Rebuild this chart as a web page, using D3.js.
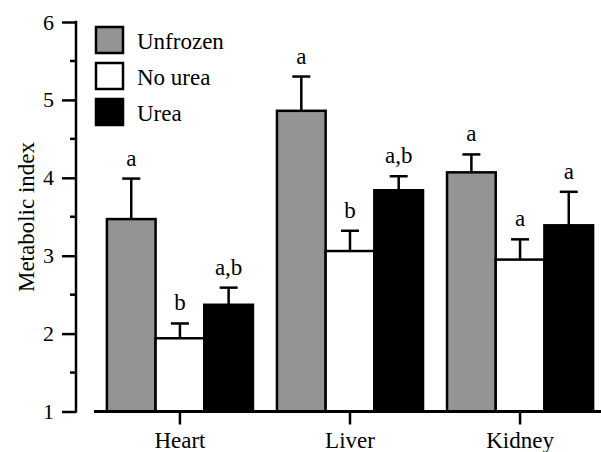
<!DOCTYPE html>
<html>
<head>
<meta charset="utf-8">
<script src="https://cdn.jsdelivr.net/npm/d3@7"></script>
<style>
  @font-face { font-family: "ChartSerif"; src: local("Liberation Serif"), local("LiberationSerif"), local("LiberationSerif-Regular"), local("Times New Roman"), local("Tinos"); }
  html, body { margin: 0; padding: 0; background: #fff; }
  #chart text { font-family: "ChartSerif", "Liberation Serif", "Times New Roman", Times, Tinos, "DejaVu Serif", serif; }
</style>
</head>
<body>
<svg id="chart" width="601" height="452"></svg>
<script>
const categories = ["Heart", "Liver", "Kidney"];
const seriesNames = ["Unfrozen", "No urea", "Urea"];
const seriesColors = ["#949494", "#ffffff", "#000000"];
const unfrozenValues = [3.47, 4.86, 4.07];
const noUreaValues = [1.94, 3.06, 2.95];
const ureaValues = [2.37, 3.84, 3.39];
const unfrozenErr = [0.52, 0.44, 0.23];
const noUreaErr = [0.19, 0.26, 0.26];
const ureaErr = [0.22, 0.18, 0.43];
const unfrozenLetters = ["a", "a", "a"];
const noUreaLetters = ["b", "b", "a"];
const ureaLetters = ["a,b", "a,b", "a"];
const yTicks = [1, 2, 3, 4, 5, 6];
const yMinorTicks = [1.5, 2.5, 3.5, 4.5, 5.5];

const seriesValues = [unfrozenValues, noUreaValues, ureaValues];
const seriesErr = [unfrozenErr, noUreaErr, ureaErr];
const seriesLetters = [unfrozenLetters, noUreaLetters, ureaLetters];

const data = [];
categories.forEach((c, i) => {
  seriesNames.forEach((s, j) => {
    data.push({ cat: c, series: s, si: j, value: seriesValues[j][i], err: seriesErr[j][i], letter: seriesLetters[j][i] });
  });
});

const FONT = "'Liberation Serif', 'Times New Roman', Times, Tinos, 'DejaVu Serif', serif";
const svg = d3.select("#chart");
const y = d3.scaleLinear().domain([1, 6]).range([411.5, 22]);
const x = d3.scaleBand().domain(categories).range([95, 605]).paddingInner(0.1412).paddingOuter(0.07);
const xs = d3.scaleBand().domain(seriesNames).range([0, x.bandwidth()]).padding(0);

function serif(sel, size) {
  sel.attr("font-family", FONT).attr("font-size", size)
     .style("font-family", FONT).style("font-size", size + "px");
  return sel;
}

// bars
svg.append("g").selectAll("rect").data(data).join("rect")
  .attr("x", d => x(d.cat) + xs(d.series))
  .attr("y", d => y(d.value))
  .attr("width", xs.bandwidth())
  .attr("height", d => y(1) - y(d.value))
  .attr("fill", d => seriesColors[d.si])
  .attr("stroke", "#000")
  .attr("stroke-width", 2.5);

// error bars
const eb = svg.append("g").attr("stroke", "#000").attr("stroke-width", 2.5);
data.forEach(d => {
  const cx = x(d.cat) + xs(d.series) + xs.bandwidth() / 2;
  eb.append("line").attr("x1", cx).attr("x2", cx).attr("y1", y(d.value)).attr("y2", y(d.value + d.err));
  eb.append("line").attr("x1", cx - 9).attr("x2", cx + 9).attr("y1", y(d.value + d.err)).attr("y2", y(d.value + d.err));
});

// letters
serif(svg.append("g").selectAll("text").data(data).join("text")
  .attr("x", d => x(d.cat) + xs(d.series) + xs.bandwidth() / 2)
  .attr("y", d => y(d.value + d.err) - 13)
  .attr("text-anchor", "middle")
  .text(d => d.letter), 23);

// y axis
const yAxis = svg.append("g").attr("transform", "translate(76,0)")
  .call(d3.axisLeft(y).tickValues(yTicks).tickSize(14).tickPadding(8).tickFormat(d3.format("d")));
yAxis.attr("font-family", FONT);
yAxis.select(".domain").remove();
yAxis.selectAll(".tick line").attr("stroke", "#000").attr("stroke-width", 2.5);
serif(yAxis.selectAll(".tick text").attr("fill", "#000"), 22);
yAxis.append("line").attr("x1", 0).attr("x2", 0).attr("y1", y(6) - 1.25).attr("y2", y(1) + 1.25)
  .attr("stroke", "#000").attr("stroke-width", 2.5);
yAxis.selectAll(".minor").data(yMinorTicks).join("line")
  .attr("x1", -6).attr("x2", 0).attr("y1", d => y(d)).attr("y2", d => y(d))
  .attr("stroke", "#000").attr("stroke-width", 2.5);

// x axis
const xAxis = svg.append("g").attr("transform", `translate(0,${y(1)})`)
  .call(d3.axisBottom(x).tickSize(13).tickPadding(7));
xAxis.attr("font-family", FONT);
xAxis.select(".domain").remove();
xAxis.selectAll(".tick line").attr("stroke", "#000").attr("stroke-width", 2.5);
serif(xAxis.selectAll(".tick text").attr("fill", "#000"), 23);
xAxis.append("line").attr("x1", 94).attr("x2", 601).attr("y1", 0).attr("y2", 0)
  .attr("stroke", "#000").attr("stroke-width", 3);

// y title
serif(svg.append("text")
  .attr("transform", "translate(34,217) rotate(-90)")
  .attr("text-anchor", "middle")
  .text("Metabolic index"), 23);

// legend
const lg = svg.append("g").selectAll("g").data(seriesNames).join("g")
  .attr("transform", (d, i) => `translate(96,${27 + i * 36})`);
lg.append("rect").attr("width", 27).attr("height", 26)
  .attr("fill", (d, i) => seriesColors[i]).attr("stroke", "#000").attr("stroke-width", 2.5);
serif(lg.append("text").attr("x", 41).attr("y", 22).text(d => d), 23);
</script>
</body>
</html>
